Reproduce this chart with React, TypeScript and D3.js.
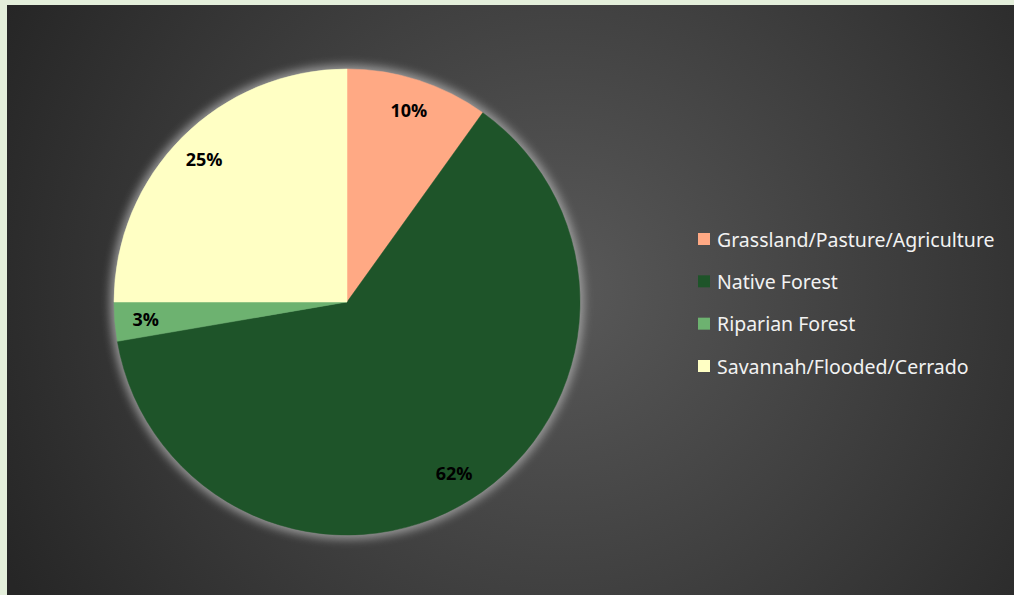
import React from "react";
import * as d3 from "d3";

const categories = ["Grassland/Pasture/Agriculture", "Native Forest", "Riparian Forest", "Savannah/Flooded/Cerrado"];
const values = [9.9, 62.4, 2.7, 25.0];
const labels = ["10%", "62%", "3%", "25%"];
const colors = ["#FFA984", "#1E5429", "#6DB270", "#FFFFC4"];

const W = 1014;
const H = 595;

export default function App() {
  const cx = 347, cy = 302, R = 233;
  const pie = d3.pie<number>().sort(null).value((d) => d)(values);
  const arc = d3.arc<d3.PieArcDatum<number>>().innerRadius(0).outerRadius(R);
  const labelArc = d3.arc<d3.PieArcDatum<number>>().innerRadius(202).outerRadius(202);
  const legendY = d3.scalePoint<string>().domain(categories).range([239, 366]);

  return (
    <svg width={W} height={H} style={{ position: "absolute", left: 0, top: 0, display: "block" }}>
      <defs>
        <radialGradient id="bg" gradientUnits="userSpaceOnUse" cx={560} cy={290} r={620}>
          <stop offset="0" stopColor="#595959" />
          <stop offset="1" stopColor="#262626" />
        </radialGradient>
        <filter id="glow" x="-20%" y="-20%" width="140%" height="140%">
          <feGaussianBlur stdDeviation="5" />
        </filter>
      </defs>
      <rect x={0} y={0} width={W} height={H} fill="#E4EFDB" />
      <rect x={7} y={5} width={W - 7} height={H - 5} fill="url(#bg)" />
      <g transform={`translate(${cx},${cy})`}>
        <circle r={R + 4} fill="#a8a8a8" filter="url(#glow)" opacity={0.85} />
        {pie.map((d, i) => (
          <path key={i} d={arc(d) || ""} fill={colors[i]} stroke={colors[i]} strokeWidth={0.5} />
        ))}
        {pie.map((d, i) => {
          const [x, y] = labelArc.centroid(d);
          return (
            <text key={i} x={x} y={y} textAnchor="middle" dominantBaseline="central"
              fontFamily="'Open Sans', 'Noto Sans', sans-serif" fontWeight="bold" fontSize={18} fill="#000">
              {labels[i]}
            </text>
          );
        })}
      </g>
      <g>
        {categories.map((c, i) => {
          const y = legendY(c) as number;
          return (
            <g key={c}>
              <rect x={698} y={y - 6} width={12} height={12} fill={colors[i]} />
              <text x={717} y={y} dominantBaseline="central" fontFamily="'Noto Sans', sans-serif" fontSize={19.5} fill="#F2F2F2">
                {c}
              </text>
            </g>
          );
        })}
      </g>
    </svg>
  );
}
